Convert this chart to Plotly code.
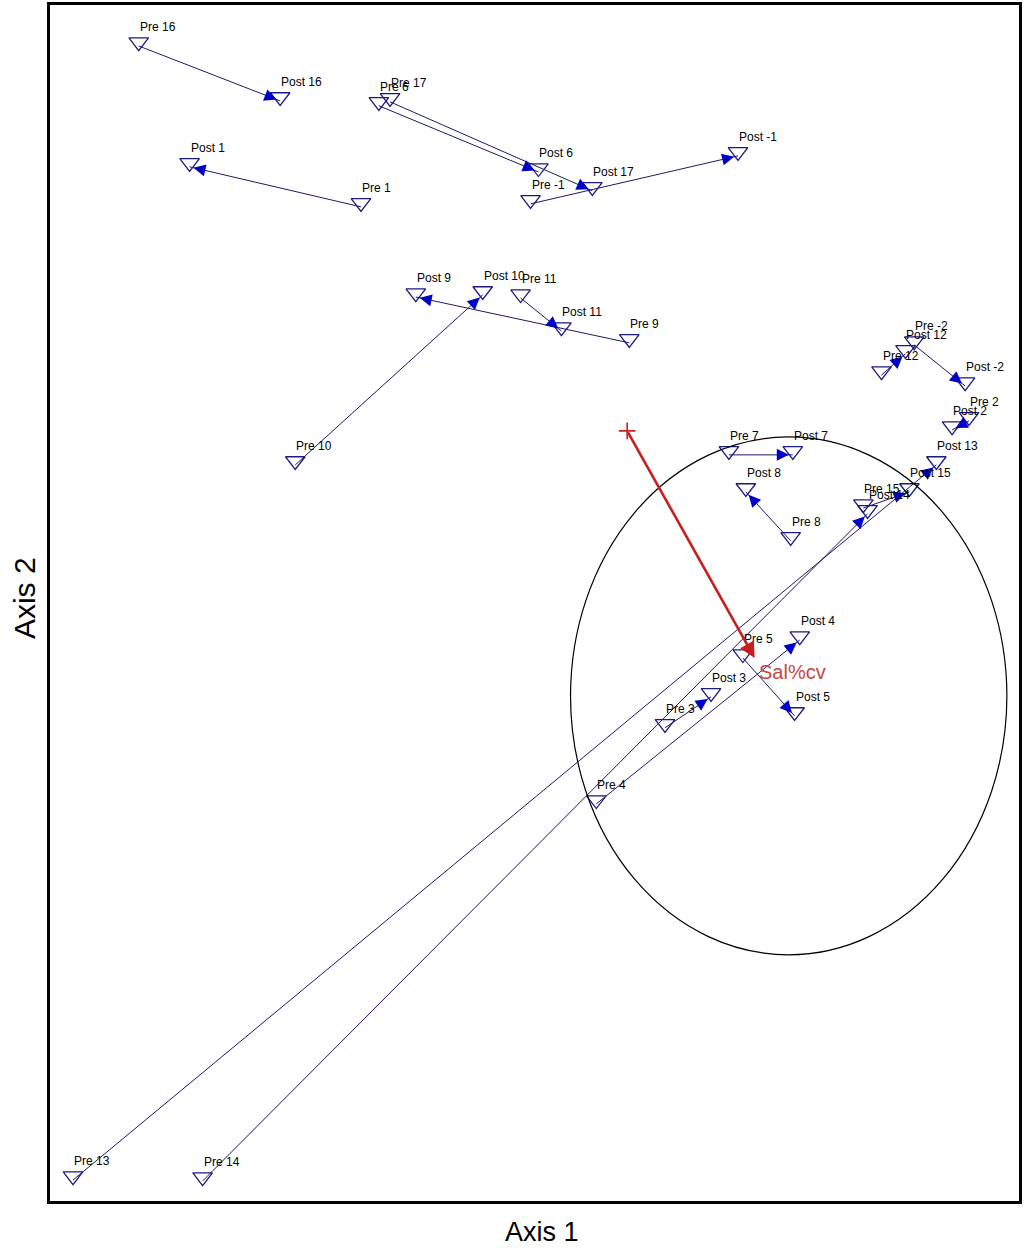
import numpy as np
import plotly.graph_objects as go

# ---- data (ordination scores) ----
ids = ['-1', '-2', '1', '2', '3', '4', '5', '6', '7', '8', '9', '10',
       '11', '12', '13', '14', '15', '16', '17']
pre_x = [-0.013, 1.254, -0.573, 1.435, 0.431, 0.204, 0.688, -0.514, 0.642, 0.846,
         0.313, -0.790, -0.046, 1.146, -1.524, -1.096, 1.086, -1.307, -0.477]
pre_y = [1.285, 0.820, 1.275, 0.570, -0.441, -0.692, -0.211, 1.608, 0.458, 0.175,
         0.827, 0.425, 0.975, 0.721, -1.931, -1.934, 0.283, 1.805, 1.621]
post_x = [0.672, 1.422, -1.139, 1.379, 0.583, 0.876, 0.859, 0.013, 0.853, 0.698,
          -0.392, -0.171, 0.089, 1.225, 1.327, 1.100, 1.238, -0.840, 0.191]
post_y = [1.443, 0.685, 1.407, 0.540, -0.339, -0.152, -0.402, 1.390, 0.458, 0.336,
          0.978, 0.985, 0.866, 0.791, 0.425, 0.264, 0.336, 1.624, 1.328]

vec_name = 'Sal%cv'
vec_origin = [0.306, 0.537]
vec_tip = [0.727, -0.211]

ellipse_x = [0.119, 1.560]
ellipse_y = [-1.189, 0.517]

x_range = [-1.6, 1.6]
y_range = [-2.0, 1.94]

# ---- layout constants ----
W, H = 1024, 1250
ML, MR, MT, MB = 50, 2, 5, 49
plot_w = W - ML - MR
plot_h = H - MT - MB
px_y = (y_range[1] - y_range[0]) / plot_h

LINE_C = '#1a1a66'
HEAD_C = '#0000c8'
TRI_C = '#1a1a80'
FONT = 'Liberation Sans, Arial, sans-serif'

fig = go.Figure()

# connecting lines pre -> post
lx, ly = [], []
for a, b, c, d in zip(pre_x, pre_y, post_x, post_y):
    lx += [a, c, None]
    ly += [b, d, None]
fig.add_trace(go.Scatter(x=lx, y=ly, mode='lines',
                         line=dict(color=LINE_C, width=1), hoverinfo='skip'))

# triangles (shift so triangle box is centred on the point)
off = 3.9 * px_y
all_x = pre_x + post_x
all_y = pre_y + post_y
fig.add_trace(go.Scatter(x=all_x, y=[v + off for v in all_y], mode='markers',
                         marker=dict(symbol='triangle-down-open', size=17,
                                     color=TRI_C, line=dict(width=1.3, color=TRI_C)),
                         hoverinfo='skip'))

# vector origin cross
fig.add_trace(go.Scatter(x=[vec_origin[0]], y=[vec_origin[1]], mode='markers',
                         marker=dict(symbol='cross-thin-open', size=12, color='#d02020',
                                     line=dict(width=1.6, color='#d02020')),
                         hoverinfo='skip'))

annotations = []
# blue arrow heads at post points
for a, b, c, d in zip(pre_x, pre_y, post_x, post_y):
    dx, dy = c - a, d - b
    L = np.hypot(dx, dy)
    ux, uy = dx / L, dy / L
    back = 0.045
    annotations.append(dict(x=c, y=d, ax=c - ux * back, ay=d - uy * back,
                            xref='x', yref='y', axref='x', ayref='y',
                            showarrow=True, arrowhead=2, arrowsize=2.0,
                            arrowwidth=1.2, arrowcolor=HEAD_C, standoff=4, text=''))

# labels
font_lbl = dict(family=FONT, size=12, color='#000000')
for i, n in enumerate(ids):
    for px_, py_, t in ((pre_x[i], pre_y[i], 'Pre ' + n), (post_x[i], post_y[i], 'Post ' + n)):
        annotations.append(dict(x=px_, y=py_, text=t, showarrow=False,
                                xanchor='left', yanchor='middle', xshift=-1, yshift=19,
                                font=font_lbl))

# red vector
annotations.append(dict(x=vec_tip[0], y=vec_tip[1], ax=vec_origin[0], ay=vec_origin[1],
                        xref='x', yref='y', axref='x', ayref='y', showarrow=True,
                        arrowhead=2, arrowsize=1.2, arrowwidth=2.6, arrowcolor='#c81e1e',
                        text=''))
annotations.append(dict(x=vec_tip[0], y=vec_tip[1], text=vec_name, showarrow=False,
                        xanchor='left', yanchor='middle', xshift=2, yshift=-14,
                        font=dict(family=FONT, size=20, color='#c84646')))

# axis titles (paper coords relative to plot area)
annotations.append(dict(x=(544 - ML) / plot_w, y=(H - MB - 1232) / plot_h,
                        xref='paper', yref='paper',
                        text='Axis 1', showarrow=False, xanchor='center', yanchor='middle',
                        font=dict(family=FONT, size=27, color='black')))
annotations.append(dict(x=(25 - ML) / plot_w, y=(H - MB - 598) / plot_h,
                        xref='paper', yref='paper',
                        text='Axis 2', showarrow=False, xanchor='center', yanchor='middle',
                        textangle=-90,
                        font=dict(family=FONT, size=30, color='black')))

shapes = [dict(type='circle', xref='x', yref='y',
               x0=ellipse_x[0], x1=ellipse_x[1], y0=ellipse_y[0], y1=ellipse_y[1],
               line=dict(color='black', width=1.2))]

fig.update_layout(
    width=W, height=H,
    margin=dict(l=ML, r=MR, t=MT, b=MB),
    paper_bgcolor='white', plot_bgcolor='white',
    showlegend=False,
    annotations=annotations, shapes=shapes,
    xaxis=dict(range=x_range, showgrid=False, zeroline=False, showticklabels=False,
               ticks='', showline=True, mirror=True, linecolor='black', linewidth=3),
    yaxis=dict(range=y_range, showgrid=False, zeroline=False, showticklabels=False,
               ticks='', showline=True, mirror=True, linecolor='black', linewidth=3),
)

fig.write_html('out.html')
